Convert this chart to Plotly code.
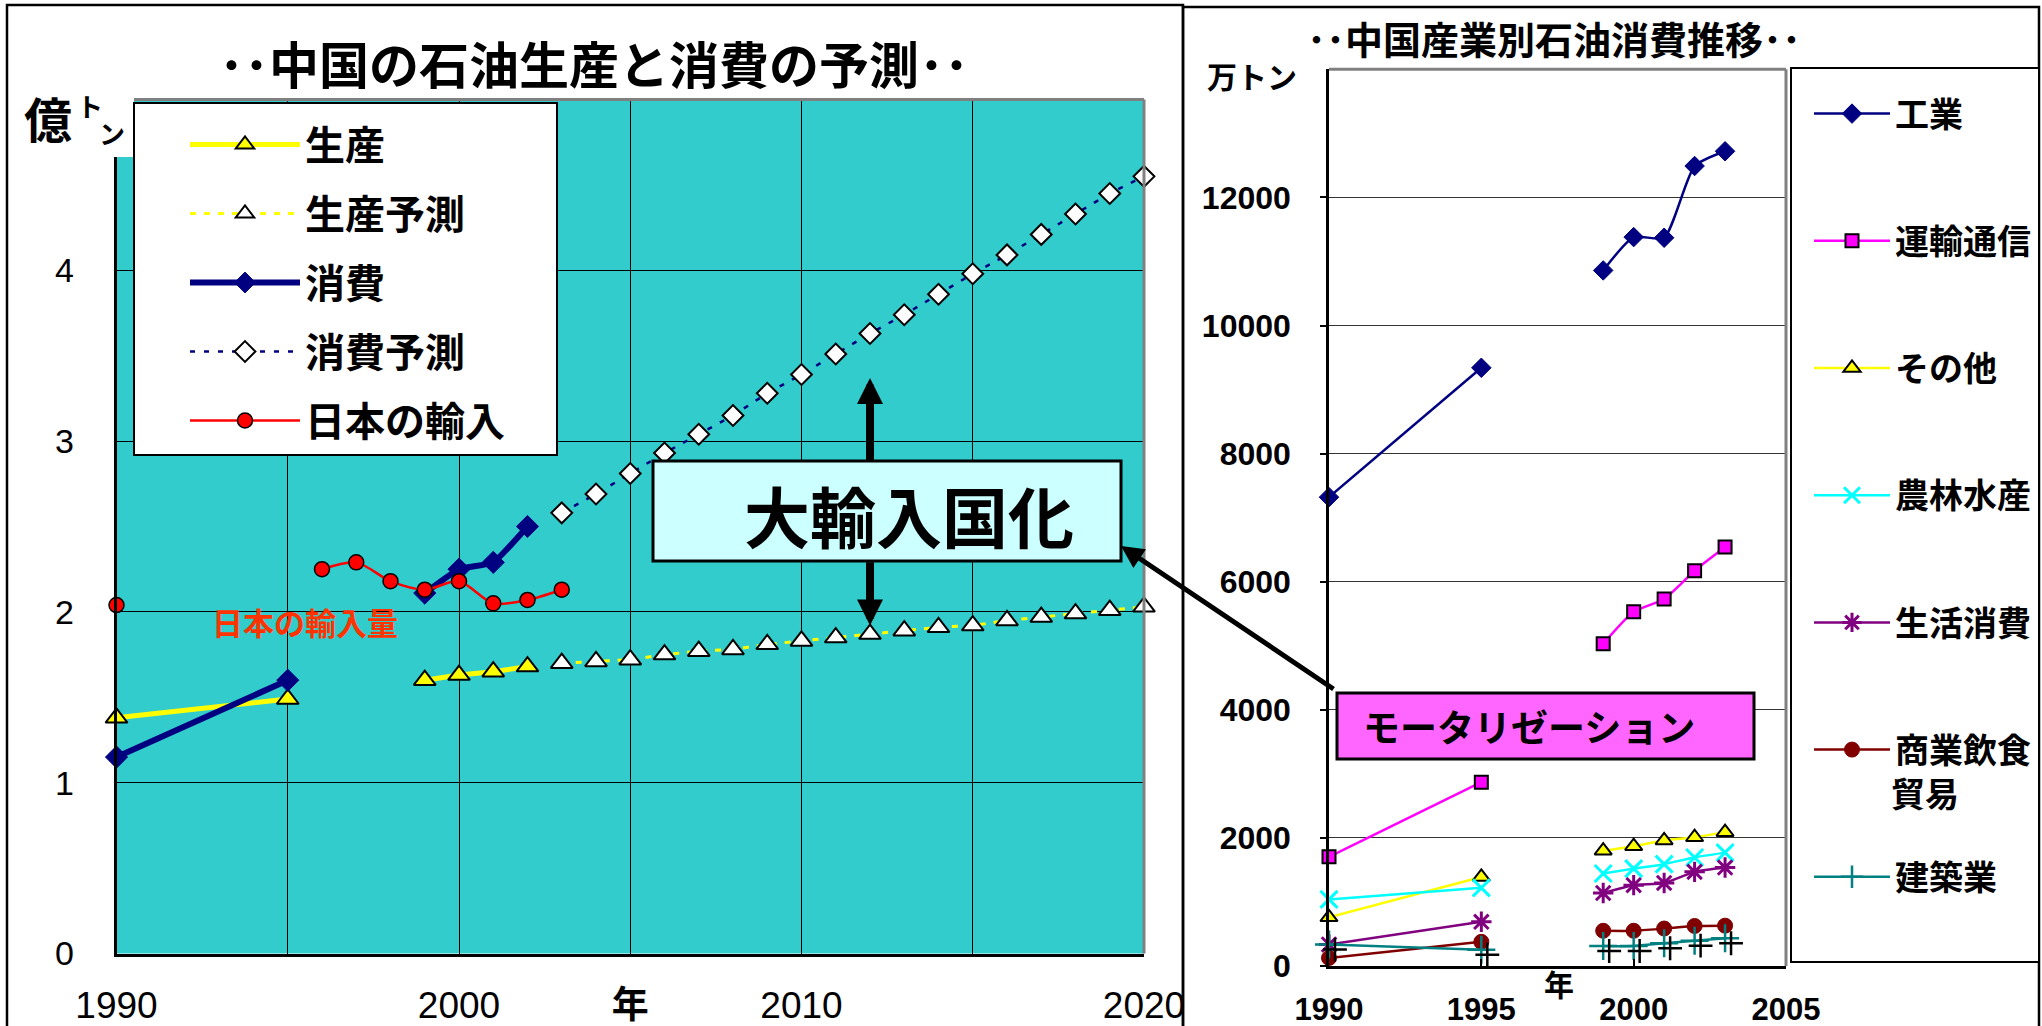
import plotly.graph_objects as go

W, H = 2042, 1026

# ---------------- left chart: China oil production / consumption (億トン) ----------------
hist_years = [1990, 1995, 1996, 1997, 1998, 1999, 2000, 2001, 2002]
production = [1.38, 1.49, None, None, None, 1.60, 1.63, 1.65, 1.68]
consumption = [1.15, 1.60, None, None, None, 2.11, 2.25, 2.29, 2.50]

forecast_years = list(range(2003, 2021))
production_forecast = [1.70, 1.71, 1.72, 1.75, 1.77, 1.78, 1.81, 1.83, 1.85,
                       1.87, 1.89, 1.91, 1.92, 1.95, 1.97, 1.99, 2.01, 2.03]
consumption_forecast = [2.58, 2.69, 2.81, 2.93, 3.04, 3.15, 3.28, 3.39, 3.51,
                        3.63, 3.74, 3.86, 3.98, 4.09, 4.21, 4.33, 4.45, 4.55]

import_years = [1990, 1995, 1996, 1997, 1998, 1999, 2000, 2001, 2002, 2003]
japan_import = [2.04, None, 2.25, 2.29, 2.18, 2.13, 2.18, 2.05, 2.07, 2.13]

left_names = ["生産", "生産予測", "消費", "消費予測", "日本の輸入"]
left_xticks = [1990, 1995, 2000, 2005, 2010, 2015, 2020]
left_xticktext = ["1990", "", "2000", "<b>年</b>", "2010", "", "2020"]
left_yticks = [0, 1, 2, 3, 4]

# ---------------- right chart: oil consumption by sector (万トン) ----------------
sector_years = [1990, 1995, 1996, 1999, 2000, 2001, 2002, 2003]
industry = [7320, 9340, None, 10860, 11380, 11370, 12490, 12720]
transport = [1705, 2870, None, 5030, 5530, 5730, 6170, 6540]
other = [760, 1390, None, 1800, 1870, 1960, 2010, 2090]
agriculture = [1040, 1220, None, 1445, 1520, 1590, 1695, 1770]
household = [335, 690, None, 1140, 1262, 1297, 1470, 1537]
commerce = [126, 377, None, 550, 550, 585, 625, 630]
construction = [335, 255, None, 312, 312, 355, 395, 433]

sector_names = ["工業", "運輸通信", "その他", "農林水産", "生活消費", "商業飲食", "建築業"]
right_xticks = [1990, 1995, 2000, 2005]
right_yticks = [0, 2000, 4000, 6000, 8000, 10000, 12000]

JP = "Noto Sans CJK JP"
LAT = "Liberation Sans, Noto Sans CJK JP"


def px(x):
    return x / W


def py(y):
    return 1 - y / H


fig = go.Figure()

# left chart series
fig.add_trace(go.Scatter(
    x=hist_years, y=production, name=left_names[0], mode="lines+markers",
    line=dict(color="#FFFF00", width=5),
    marker=dict(symbol="triangle-up", size=19, color="#FFFF00", line=dict(color="black", width=2)),
    xaxis="x", yaxis="y", legend="legend", legendgroup="a", cliponaxis=False))
fig.add_trace(go.Scatter(
    x=forecast_years, y=production_forecast, name=left_names[1], mode="lines+markers",
    line=dict(color="#FFFF00", width=3, dash="6px,8px"),
    marker=dict(symbol="triangle-up", size=19, color="white", line=dict(color="black", width=2)),
    xaxis="x", yaxis="y", legend="legend", legendgroup="b", cliponaxis=False))
fig.add_trace(go.Scatter(
    x=hist_years, y=consumption, name=left_names[2], mode="lines+markers",
    line=dict(color="#000080", width=6, shape="spline", smoothing=0.4),
    marker=dict(symbol="diamond", size=17, color="#000080", line=dict(color="#000080", width=1)),
    xaxis="x", yaxis="y", legend="legend", legendgroup="c", cliponaxis=False))
fig.add_trace(go.Scatter(
    x=forecast_years, y=consumption_forecast, name=left_names[3], mode="lines+markers",
    line=dict(color="#000080", width=2.5, dash="5px,9px"),
    marker=dict(symbol="diamond", size=16, color="white", line=dict(color="black", width=2)),
    xaxis="x", yaxis="y", legend="legend", legendgroup="d", cliponaxis=False))
fig.add_trace(go.Scatter(
    x=import_years, y=japan_import, name=left_names[4], mode="lines+markers",
    line=dict(color="#FF0000", width=2.5, shape="spline", smoothing=0.8),
    marker=dict(symbol="circle", size=15, color="#FF0000", line=dict(color="black", width=1.5)),
    xaxis="x", yaxis="y", legend="legend", legendgroup="e", cliponaxis=False))

# right chart series
sector_values = [industry, transport, other, agriculture, household, commerce, construction]
sector_lines = ["#000080", "#FF00FF", "#FFFF00", "#00FFFF", "#800080", "#800000", "#008080"]
sector_markers = [
    dict(symbol="diamond", size=15, color="#000080", line=dict(color="#000080", width=1)),
    dict(symbol="square", size=13, color="#FF00FF", line=dict(color="black", width=2)),
    dict(symbol="triangle-up", size=15, color="#FFFF00", line=dict(color="black", width=2)),
    dict(symbol="x-thin", size=17, color="#00FFFF", line=dict(color="#00FFFF", width=3)),
    dict(symbol="asterisk", size=17, color="#800080", line=dict(color="#800080", width=3)),
    dict(symbol="circle", size=15, color="#800000", line=dict(color="#800000", width=1)),
    dict(symbol="cross-thin", size=20, color="#008080", line=dict(color="#008080", width=2.5)),
]
for i, (name, vals) in enumerate(zip(sector_names, sector_values)):
    fig.add_trace(go.Scatter(
        x=sector_years, y=vals, name=name, mode="lines+markers",
        line=dict(color=sector_lines[i], width=2.5, shape="spline", smoothing=0.6),
        marker=sector_markers[i],
        xaxis="x2", yaxis="y2", legend="legend2", legendgroup="s%d" % i, cliponaxis=False))

# dark print offset of the construction crosses
fig.add_trace(go.Scatter(
    x=sector_years, y=construction, mode="markers", showlegend=False, hoverinfo="skip",
    marker=dict(symbol="cross-thin", size=17, color="black", line=dict(color="black", width=2.5)),
    xaxis="x3", yaxis="y3", cliponaxis=False))

axis_common = dict(showline=True, linecolor="black", linewidth=2.5, zeroline=False,
                   fixedrange=True, automargin=False)

# left plot area
lx0, lx1, ly0, ly1 = 116.5, 1144, 99.5, 953.5
# right plot area
rx0, rx1, ry0, ry1 = 1329, 1786, 69.3, 966

fig.update_layout(
    width=W, height=H, margin=dict(l=0, r=0, t=0, b=0, autoexpand=False),
    paper_bgcolor="white", plot_bgcolor="white",
    font=dict(family=LAT, color="black"),
    xaxis=dict(domain=[px(lx0), px(lx1)], range=[1990, 2020], tickvals=left_xticks,
               ticktext=left_xticktext, showgrid=True, gridcolor="black", gridwidth=1.3,
               ticks="", tickfont=dict(size=37, family=LAT), ticklabelstandoff=17,
               **axis_common),
    yaxis=dict(domain=[py(ly1), py(ly0)], range=[0, 5], tickvals=left_yticks,
               showgrid=True, gridcolor="black", gridwidth=1.3, ticks="",
               tickfont=dict(size=34, family=LAT), ticklabelstandoff=33, **axis_common),
    xaxis2=dict(domain=[px(rx0), px(rx1)], range=[1990, 2005], tickvals=right_xticks,
                showgrid=False, ticks="inside", ticklen=7, tickcolor="black", tickwidth=2,
                tickfont=dict(size=31, family=LAT, weight="bold"), ticklabelstandoff=14,
                anchor="y2", **axis_common),
    yaxis2=dict(domain=[py(ry1), py(ry0)], range=[0, 14000], tickvals=right_yticks,
                tickformat="d",
                showgrid=True, gridcolor="#333333", gridwidth=1.3, ticks="outside", ticklen=6,
                tickcolor="black", tickwidth=1.5,
                tickfont=dict(size=32, family=LAT, weight="bold"), ticklabelstandoff=23,
                anchor="x2", **axis_common),
    xaxis3=dict(domain=[px(rx0), px(rx1)], range=[1990 - 6 / 30.53, 2005 - 6 / 30.53],
                overlaying="x2", visible=False, anchor="y3", fixedrange=True),
    yaxis3=dict(domain=[py(ry1), py(ry0)], range=[78, 14078], overlaying="y2",
                visible=False, anchor="x3", fixedrange=True),
    legend=dict(x=px(185), y=py(112), xanchor="left", yanchor="top",
                bgcolor="rgba(0,0,0,0)", borderwidth=0, tracegroupgap=14, itemwidth=110,
                font=dict(family=JP, size=40, weight="bold"), itemclick=False,
                itemdoubleclick=False),
    legend2=dict(x=px(1809), y=py(85), xanchor="left", yanchor="top",
                 bgcolor="rgba(0,0,0,0)", borderwidth=0, tracegroupgap=80, itemwidth=76,
                 font=dict(family=JP, size=34, weight="bold"), itemclick=False,
                 itemdoubleclick=False),
    showlegend=True,
)

# plot backgrounds and frames
shapes = [
    # teal plotting area of the left chart
    dict(type="rect", xref="paper", yref="paper", x0=px(lx0), x1=px(lx1), y0=py(ly1), y1=py(ly0),
         fillcolor="#33CCCC", line=dict(width=0), layer="below"),
    # grey top / right borders of both plot areas
    dict(type="line", xref="paper", yref="paper", x0=px(lx0), x1=px(lx1), y0=py(ly0), y1=py(ly0),
         line=dict(color="#808080", width=3), layer="above"),
    dict(type="line", xref="paper", yref="paper", x0=px(lx1), x1=px(lx1), y0=py(ly0), y1=py(ly1),
         line=dict(color="#808080", width=3), layer="above"),
    dict(type="line", xref="paper", yref="paper", x0=px(rx0), x1=px(rx1), y0=py(ry0), y1=py(ry0),
         line=dict(color="#808080", width=3), layer="above"),
    dict(type="line", xref="paper", yref="paper", x0=px(rx1), x1=px(rx1), y0=py(ry0), y1=py(ry1),
         line=dict(color="#808080", width=3), layer="above"),
    # panel frames
    dict(type="rect", xref="paper", yref="paper", x0=px(7), x1=px(1183), y0=py(1060), y1=py(5),
         line=dict(color="black", width=2.5), layer="above"),
    dict(type="rect", xref="paper", yref="paper", x0=px(1183), x1=px(2039), y0=py(1060), y1=py(7),
         line=dict(color="black", width=2.5), layer="above"),
    # white label box over the top of the left axis
    dict(type="rect", xref="paper", yref="paper", x0=px(98), x1=px(134), y0=py(157), y1=py(96),
         fillcolor="white", line=dict(width=0), layer="above"),
    # legend boxes
    dict(type="rect", xref="paper", yref="paper", x0=px(134), x1=px(557), y0=py(455), y1=py(103),
         fillcolor="white", line=dict(color="black", width=2), layer="above"),
    dict(type="rect", xref="paper", yref="paper", x0=px(1791), x1=px(2039), y0=py(962), y1=py(68),
         fillcolor="white", line=dict(color="black", width=2), layer="above"),
    # callout boxes
    dict(type="rect", xref="paper", yref="paper", x0=px(653), x1=px(1121), y0=py(561), y1=py(461),
         fillcolor="#CCFFFF", line=dict(color="black", width=3), layer="above"),
    dict(type="rect", xref="paper", yref="paper", x0=px(1337), x1=px(1754), y0=py(759), y1=py(693),
         fillcolor="#FF66FF", line=dict(color="black", width=3), layer="above"),
]
fig.update_layout(shapes=shapes)


def label(text, x, y, size, color="black", family=JP, xanchor="center"):
    return dict(text=text, x=px(x), y=py(y), xref="paper", yref="paper", showarrow=False,
                xanchor=xanchor, yanchor="middle", font=dict(size=size, color=color, family=family))


annotations = [
    label("<b>･･中国の石油生産と消費の予測･･</b>", 594, 62, 50),
    label("<b>億</b>", 47.5, 117, 48),
    label("<b>ト</b>", 89.5, 105, 26),
    label("<b>ン</b>", 111.5, 132, 26),
    label("<b>日本の輸入量</b>", 304.5, 621, 31, color="#FF3300"),
    label("<b>大輸入国化</b>", 909, 514, 66),
    label("<b>･･中国産業別石油消費推移･･</b>", 1554, 38, 38),
    label("<b>万トン</b>", 1252, 75, 30),
    label("<b>年</b>", 1559, 983, 30),
    label("<b>モータリゼーション</b>", 1361, 726, 37, xanchor="left"),
    label("<b>貿易</b>", 1889, 792, 34, xanchor="left"),
    # double arrow between consumption and production forecasts
    dict(x=2012, y=3.37, ax=2012, ay=2.88, xref="x", yref="y", axref="x", ayref="y", text="",
         showarrow=True, arrowhead=2, arrowwidth=8, arrowsize=0.65, arrowcolor="black", standoff=0),
    dict(x=2012, y=1.92, ax=2012, ay=2.30, xref="x", yref="y", axref="x", ayref="y", text="",
         showarrow=True, arrowhead=2, arrowwidth=8, arrowsize=0.65, arrowcolor="black", standoff=0),
    # pointer from the motorization box
    dict(x=px(1121), y=py(546), xref="paper", yref="paper", ax=214, ay=144, text="",
         showarrow=True, arrowhead=2, arrowwidth=5, arrowsize=0.9, arrowcolor="black", standoff=0),
]
fig.update_layout(annotations=annotations)

fig.write_html("out.html")
